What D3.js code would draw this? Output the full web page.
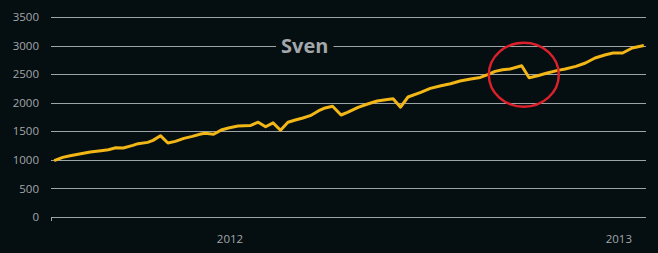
<!DOCTYPE html>
<html>
<head>
<meta charset="utf-8">
<script src="https://cdn.jsdelivr.net/npm/d3@7"></script>
<style>
  html, body { margin: 0; padding: 0; background: #050e11; }
  svg { display: block; }
</style>
</head>
<body>
<div id="vis"></div>
<script>
const FRAME_WIDTH = 658;
const FRAME_HEIGHT = 253;
const MARGINS = {left: 51, right: 12, top: 17, bottom: 36};

const BG = "#050e11";
const GRID = "#9ea3a6";
const LABEL = "#a3a7aa";
const LINE = "#f2b717";
const RING = "#d9202b";

const chartTitle = "Sven";

// weekly-ish readings, dates + values
const dates = [
  "2011-07-20", "2011-07-28", "2011-08-04", "2011-08-14", "2011-08-23",
  "2011-09-02", "2011-09-09", "2011-09-16", "2011-09-23", "2011-10-02",
  "2011-10-07", "2011-10-16", "2011-10-21", "2011-10-28", "2011-11-04",
  "2011-11-11", "2011-11-19", "2011-11-27", "2011-12-05", "2011-12-09",
  "2011-12-17", "2011-12-25", "2011-12-31", "2012-01-09", "2012-01-21",
  "2012-01-28", "2012-02-04", "2012-02-11", "2012-02-18", "2012-02-25",
  "2012-03-03", "2012-03-10", "2012-03-17", "2012-03-25", "2012-03-31",
  "2012-04-07", "2012-04-15", "2012-04-21", "2012-05-01", "2012-05-10",
  "2012-05-19", "2012-05-27", "2012-06-03", "2012-06-10", "2012-06-17",
  "2012-06-29", "2012-07-08", "2012-07-18", "2012-07-27", "2012-08-05",
  "2012-08-15", "2012-08-24", "2012-08-31", "2012-09-07", "2012-09-14",
  "2012-09-21", "2012-10-02", "2012-10-09", "2012-10-17", "2012-10-26",
  "2012-11-05", "2012-11-12", "2012-11-22", "2012-12-01", "2012-12-10",
  "2012-12-20", "2012-12-27", "2013-01-05", "2013-01-14", "2013-01-25"
];

const values = [
  985, 1043, 1073, 1108, 1138,
  1160, 1178, 1213, 1208, 1253,
  1283, 1306, 1341, 1423, 1295,
  1323, 1376, 1411, 1453, 1467,
  1449, 1528, 1558, 1593, 1603,
  1659, 1580, 1647, 1519, 1659,
  1698, 1733, 1773, 1860, 1908,
  1939, 1785, 1831, 1918, 1978,
  2030, 2053, 2070, 1922, 2100,
  2181, 2251, 2298, 2333, 2380,
  2415, 2443, 2490, 2548, 2578,
  2590, 2648, 2438, 2473, 2520,
  2566, 2590, 2636, 2695, 2783,
  2840, 2870, 2870, 2958, 3002
];

const yTicks = [0, 500, 1000, 1500, 2000, 2500, 3000, 3500];
const xDomain = ["2011-07-17", "2013-01-27"];

// circled annotation around the October dip
const ringAt = {date: "2012-10-04", value: 2490};

const parseDate = d3.timeParse("%Y-%m-%d");
const data = dates.map((d, i) => ({date: parseDate(d), value: values[i]}));

const VIS_WIDTH = FRAME_WIDTH - MARGINS.left - MARGINS.right;
const VIS_HEIGHT = FRAME_HEIGHT - MARGINS.top - MARGINS.bottom;

const FRAME = d3.select("#vis")
  .append("svg")
    .attr("width", FRAME_WIDTH)
    .attr("height", FRAME_HEIGHT)
    .style("background", BG);

const X_SCALE = d3.scaleTime()
  .domain(xDomain.map(parseDate))
  .range([0, VIS_WIDTH]);

const Y_SCALE = d3.scaleLinear()
  .domain([0, 3500])
  .range([VIS_HEIGHT, 0]);

const g = FRAME.append("g")
  .attr("transform", "translate(" + MARGINS.left + "," + MARGINS.top + ")");

// y axis with gridlines
const yAxis = g.append("g")
  .call(d3.axisLeft(Y_SCALE)
    .tickValues(yTicks)
    .tickSize(-VIS_WIDTH)
    .tickPadding(12)
    .tickFormat(d3.format("d")));
yAxis.select(".domain").remove();
yAxis.selectAll(".tick line")
  .attr("stroke", GRID)
  .attr("stroke-width", 1)
  .attr("shape-rendering", "crispEdges");
yAxis.selectAll(".tick text")
  .attr("fill", LABEL)
  .attr("font-family", "'Open Sans', sans-serif")
  .attr("font-size", "11.5px");

// small tick at the origin
g.append("line")
  .attr("x1", 0).attr("x2", 0)
  .attr("y1", VIS_HEIGHT).attr("y2", VIS_HEIGHT + 4)
  .attr("stroke", GRID)
  .attr("shape-rendering", "crispEdges");

// x axis, year labels only
const xAxis = g.append("g")
  .attr("transform", "translate(0," + VIS_HEIGHT + ")")
  .call(d3.axisBottom(X_SCALE)
    .ticks(d3.timeYear.every(1))
    .tickSize(0)
    .tickPadding(18)
    .tickFormat(d3.timeFormat("%Y")));
xAxis.select(".domain").remove();
xAxis.selectAll(".tick text")
  .attr("fill", LABEL)
  .attr("font-family", "'Open Sans', sans-serif")
  .attr("font-size", "11.5px");

// title sits on the 3000 gridline with a background patch
const title = g.append("g")
  .attr("transform", "translate(" + (VIS_WIDTH * 0.4265) + "," + Y_SCALE(3000) + ")");
const titleRect = title.append("rect");
const titleText = title.append("text")
  .attr("text-anchor", "middle")
  .attr("dy", "0.35em")
  .attr("fill", LABEL)
  .attr("font-family", "'Open Sans', sans-serif")
  .attr("font-weight", "bold")
  .attr("font-size", "20px")
  .text(chartTitle);
const bb = titleText.node().getBBox();
titleRect
  .attr("x", bb.x - 5)
  .attr("y", -4)
  .attr("width", bb.width + 10)
  .attr("height", 8)
  .attr("fill", BG);

// series line
const line = d3.line()
  .x(d => X_SCALE(d.date))
  .y(d => Y_SCALE(d.value));

g.append("path")
  .datum(data)
  .attr("fill", "none")
  .attr("stroke", LINE)
  .attr("stroke-width", 3)
  .attr("stroke-linejoin", "round")
  .attr("d", line);

// red ring annotation
g.append("ellipse")
  .attr("cx", X_SCALE(parseDate(ringAt.date)))
  .attr("cy", Y_SCALE(ringAt.value))
  .attr("rx", 35)
  .attr("ry", 32)
  .attr("fill", "none")
  .attr("stroke", RING)
  .attr("stroke-width", 2.5);
</script>
</body>
</html>
